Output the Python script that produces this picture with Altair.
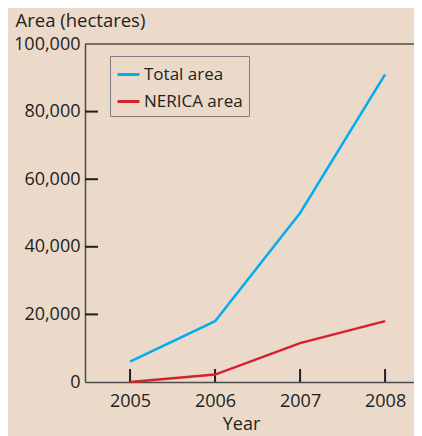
import altair as alt
import pandas as pd

years = [2005, 2006, 2007, 2008]
total_area = [6000, 18000, 50000, 91000]
nerica_area = [0, 2200, 11500, 18000]
series_names = ["Total area", "NERICA area"]
series_colors = ["#00aeef", "#d2232a"]
y_ticks = [0, 20000, 40000, 60000, 80000, 100000]
y_inner_ticks = [20000, 40000, 60000, 80000]

rows = []
for y, t, n in zip(years, total_area, nerica_area):
    rows.append({"Year": y, "Area": t, "Series": series_names[0]})
    rows.append({"Year": y, "Area": n, "Series": series_names[1]})
df = pd.DataFrame(rows)

FONT = "Open Sans"
TXT = "#231f20"
W, H = 329, 338

xscale = alt.Scale(domain=[2004.47, 2008.34], nice=False, zero=False)
yscale = alt.Scale(domain=[0, 100000], nice=False)

lines = alt.Chart(df).mark_line(strokeWidth=2.5).encode(
    x=alt.X("Year:Q", scale=xscale,
            axis=alt.Axis(values=years, format="d", title="Year", tickSize=0,
                          grid=False, labelFontSize=18, titleFontSize=18,
                          labelPadding=10, titlePadding=5, titleX=156,
                          domainColor="#4d4d4d", domainWidth=1.5,
                          labelColor=TXT, titleColor=TXT, titleFontWeight="normal",
                          labelFont=FONT, titleFont=FONT)),
    y=alt.Y("Area:Q", scale=yscale,
            axis=alt.Axis(values=y_ticks, format=",.0f", title="Area (hectares)", tickSize=0,
                          grid=False, labelFontSize=18, titleFontSize=18.5,
                          labelPadding=5, titleAngle=0, titleAlign="left",
                          titleBaseline="middle", titleX=-70, titleY=-24,
                          domainColor="#4d4d4d", domainWidth=1.5,
                          labelColor=TXT, titleColor=TXT, titleFontWeight="normal",
                          labelFont=FONT, titleFont=FONT)),
    color=alt.Color("Series:N", scale=alt.Scale(domain=series_names, range=series_colors),
                    sort=series_names,
                    legend=alt.Legend(title=None, orient="none", legendX=25, legendY=12,
                                      symbolType="stroke", symbolSize=484, symbolStrokeWidth=3,
                                      labelFontSize=17, labelFont=FONT, labelColor=TXT,
                                      strokeColor="#7f7f7f", padding=6, rowPadding=6,
                                      labelOffset=3, fillColor="transparent")),
)

ytick_df = pd.DataFrame({"v": y_inner_ticks})
yticks = alt.Chart(ytick_df).mark_rule(color=TXT, strokeWidth=2).encode(
    y=alt.Y("v:Q", scale=yscale), x=alt.value(0), x2=alt.value(13)
)
xtick_df = pd.DataFrame({"v": years})
xticks = alt.Chart(xtick_df).mark_rule(color=TXT, strokeWidth=2).encode(
    x=alt.X("v:Q", scale=xscale), y=alt.value(H), y2=alt.value(H - 13)
)
top_df = pd.DataFrame({"v": [100000]})
top = alt.Chart(top_df).mark_rule(color="#4d4d4d", strokeWidth=1.5).encode(
    y=alt.Y("v:Q", scale=yscale), x=alt.value(0), x2=alt.value(W)
)

chart = alt.layer(top, yticks, xticks, lines).properties(
    width=W, height=H,
    background="#ebd9ca",
    autosize=alt.AutoSizeParams(type="none"),
    padding={"left": 77, "top": 36, "right": 0, "bottom": 54},
).configure_view(stroke=None)

chart.save("out.html", embed_options={"renderer": "svg", "actions": False})
